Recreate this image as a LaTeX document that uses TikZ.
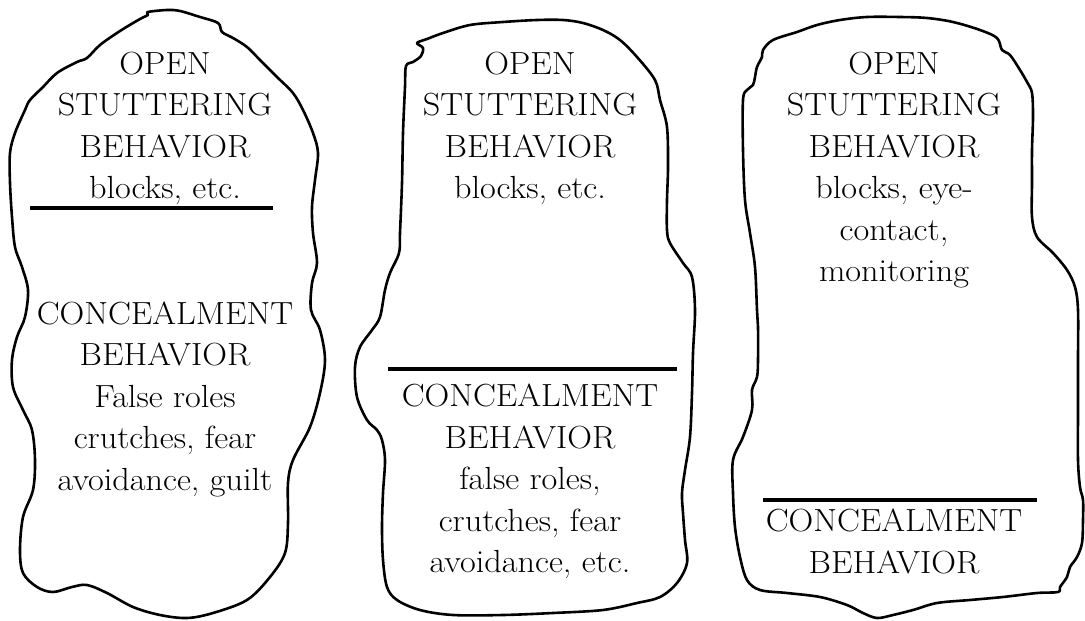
\documentclass[tikz,border=0pt]{standalone}
\usepackage{fontspec}
\setmainfont{Latin Modern Roman}[FakeStretch=1.07]
\begin{document}
\begin{tikzpicture}[x=1pt,y=-1pt,
  blob/.style={draw=black,line width=2.6pt,line join=round},
  bar/.style={draw=black,line width=4.5pt},
  lbl/.style={anchor=base,align=center,inner sep=0pt,font=\fontsize{32}{41.5}\selectfont}]
\useasboundingbox[fill=white] (0,0) rectangle (1085,621);
% blob 1
\draw[blob] plot[smooth cycle,tension=0.55] coordinates{
(148,12) (167,10) (180,11) (200,17) (218,23) (222,32) (233,38) (247,47) (260,60) (277,77) (293,93) (303,110) (313,133) (318,153) (315,180) (312,207) (313,233) (317,263) (312,283) (311,310) (320,330) (325,360) (320,393) (310,427) (293,460) (288,483) (288,523) (285,553) (270,577) (247,600) (213,613) (187,618) (160,615) (133,607) (107,593) (87,585) (72,587) (53,592) (37,587) (23,573) (20,550) (23,517) (33,490) (35,460) (32,430) (23,410) (13,387) (12,360) (17,337) (25,317) (28,290) (22,267) (15,247) (12,217) (10,183) (10,153) (15,133) (25,110) (30,100) (43,87) (57,73) (77,62) (87,58) (100,45) (120,31) (140,19) (148,15)};
% blob 2
\draw[blob] plot[smooth cycle,tension=0.55] coordinates{
(417,43) (423,48) (421,56) (413,62) (406,66) (405,87) (403,133) (402,183) (400,233) (399,253) (390,273) (385,290) (380,317) (372,330) (360,347) (355,367) (357,397) (367,420) (377,430) (382,440) (385,460) (383,493) (382,527) (383,560) (387,587) (397,600) (420,610) (453,615) (503,615) (553,613) (603,610) (637,603) (660,597) (677,583) (687,563) (685,540) (683,513) (682,493) (685,470) (690,437) (692,393) (693,353) (695,310) (692,277) (683,263) (670,243) (667,230) (667,200) (668,167) (667,127) (660,100) (655,80) (637,57) (620,40) (603,30) (583,23) (563,20) (537,20) (503,22) (470,25) (443,33) (427,39)};
% blob 3
\draw[blob] plot[smooth cycle,tension=0.55] coordinates{
(763,50) (773,40) (797,32) (817,25) (840,20) (867,17) (900,17) (927,18) (953,22) (980,30) (997,38) (1002,50) (1010,55) (1020,70) (1027,82) (1032,93) (1033,117) (1032,150) (1032,183) (1032,217) (1037,237) (1053,253) (1067,270) (1075,287) (1078,310) (1078,360) (1078,410) (1078,460) (1080,487) (1083,500) (1083,520) (1082,543) (1077,557) (1070,567) (1067,577) (1060,587) (1058,592) (1037,593) (1003,597) (970,600) (937,603) (913,610) (893,615) (877,618) (863,613) (847,605) (820,597) (787,593) (760,590) (747,580) (740,557) (735,527) (733,493) (733,460) (743,437) (752,410) (752,390) (757,377) (758,360) (758,327) (757,310) (755,267) (750,233) (745,200) (743,150) (743,100) (747,90) (753,85) (755,77) (757,67) (762,57)};
% bars
\coordinate (b1l) at (30,208);  \coordinate (b1r) at (273,208);
\coordinate (b2l) at (388,369); \coordinate (b2r) at (677,369);
\coordinate (b3l) at (763,500); \coordinate (b3r) at (1037,500);
\draw[bar] (b1l) -- (b1r);
\draw[bar] (b2l) -- (b2r);
\draw[bar] (b3l) -- (b3r);
% texts (anchor base = baseline of the last line)
\node[lbl] (t1) at (165,198.5) {OPEN\\STUTTERING\\BEHAVIOR\\blocks, etc.};
\node[lbl] (c1) at (165,490) {CONCEALMENT\\BEHAVIOR\\False roles\\crutches, fear\\avoidance, guilt};
\node[lbl] (t2) at (530,198.5) {OPEN\\STUTTERING\\BEHAVIOR\\blocks, etc.};
\node[lbl] (c2) at (530,572.5) {CONCEALMENT\\BEHAVIOR\\false roles,\\crutches, fear\\avoidance, etc.};
\node[lbl] (t3) at (894,281.5) {OPEN\\STUTTERING\\BEHAVIOR\\blocks, eye-\\contact,\\monitoring};
\node[lbl] (c3) at (894,573) {CONCEALMENT\\BEHAVIOR};
\end{tikzpicture}
\end{document}
